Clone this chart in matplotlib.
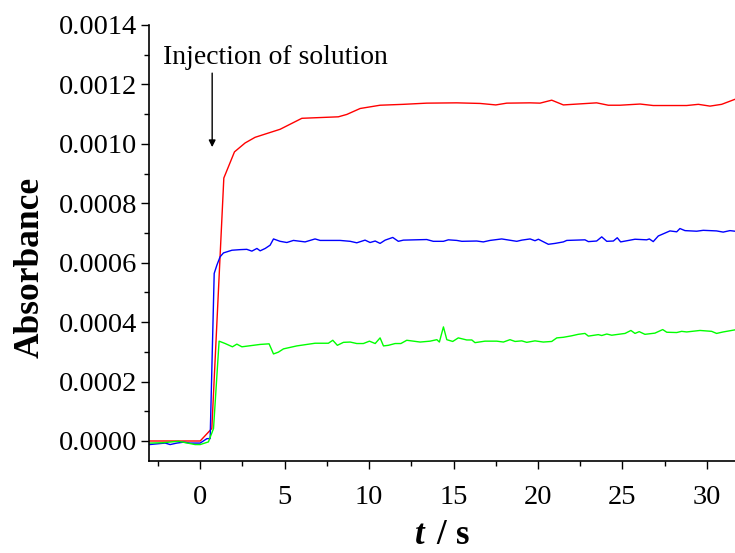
import matplotlib
matplotlib.use("Agg")
import matplotlib.pyplot as plt
from matplotlib.ticker import MultipleLocator, FormatStrFormatter

plt.rcParams['font.family'] = ['Liberation Serif', 'DejaVu Serif']
plt.rcParams['mathtext.fontset'] = 'custom'
plt.rcParams['mathtext.it'] = 'Liberation Serif:italic:bold'
plt.rcParams['mathtext.rm'] = 'Liberation Serif:bold'

# ---- data (time in s, absorbance) ----
red_t = [-3.0, 0.0, 0.69, 1.40, 2.03, 2.66, 3.25, 3.85, 4.73, 6.02, 8.18, 8.68,
         9.47, 10.65, 12.03, 13.41, 15.19, 16.57, 17.50, 18.15, 19.53, 20.12,
         20.81, 21.50, 23.47, 24.16, 24.85, 26.04, 26.82, 28.80, 29.49, 30.18,
         30.87, 31.66]
red_a = [0.0, 0.0, 0.000042, 0.000885, 0.000973, 0.001003, 0.001022, 0.001033,
         0.001049, 0.001086, 0.001091, 0.001099, 0.001119, 0.001130, 0.001133,
         0.001137, 0.001138, 0.001136, 0.001131, 0.001137, 0.001138, 0.001137,
         0.001147, 0.001131, 0.001138, 0.001130, 0.001130, 0.001134, 0.001129,
         0.001129, 0.001133, 0.001127, 0.001133, 0.001150]

blue_t = [-3.0, -2.07, -1.78, -1.38, -0.99, -0.59, 0.0, 0.40, 0.59, 0.83, 0.99,
          1.18, 1.38, 1.88, 2.37, 2.76, 3.06, 3.36, 3.55, 3.85, 4.14, 4.34, 4.73,
          5.13, 5.52, 6.21, 6.80, 7.10, 8.28, 8.88, 9.27, 9.76, 10.06, 10.36,
          10.65, 10.95, 11.40, 11.73, 12.03, 13.41, 13.80, 14.40, 14.69, 15.19,
          15.49, 16.37, 16.76, 17.16, 17.85, 18.74, 19.04, 19.53, 19.82, 20.02,
          20.61, 21.01, 21.50, 21.70, 22.78, 22.98, 23.47, 23.77, 24.07, 24.46,
          24.69, 24.89, 25.74, 26.43, 26.59, 26.82, 27.12, 27.81, 28.21, 28.40,
          28.70, 29.39, 29.78, 30.57, 30.96, 31.36, 31.66]
blue_a = [-0.000012, -0.000007, -0.000012, -0.000007, -0.000004, -0.000007,
          -0.000007, 0.000008, 0.000008, 0.000564, 0.000592, 0.000620, 0.000633,
          0.000642, 0.000644, 0.000645, 0.000639, 0.000648, 0.000640, 0.000648,
          0.000659, 0.000680, 0.000672, 0.000668, 0.000675, 0.000670, 0.000680,
          0.000675, 0.000675, 0.000672, 0.000667, 0.000676, 0.000668, 0.000673,
          0.000665, 0.000676, 0.000685, 0.000672, 0.000676, 0.000678, 0.000672,
          0.000672, 0.000677, 0.000675, 0.000672, 0.000673, 0.000670, 0.000675,
          0.000680, 0.000672, 0.000676, 0.000680, 0.000674, 0.000679, 0.000662,
          0.000665, 0.000670, 0.000675, 0.000677, 0.000671, 0.000673, 0.000687,
          0.000672, 0.000673, 0.000684, 0.000670, 0.000679, 0.000677, 0.000680,
          0.000671, 0.000690, 0.000707, 0.000704, 0.000715, 0.000708, 0.000706,
          0.000709, 0.000707, 0.000703, 0.000708, 0.000706]

green_t = [-3.0, -2.27, -1.28, -0.30, 0.0, 0.49, 0.79, 1.12, 1.48, 1.91, 2.17,
           2.47, 3.55, 4.08, 4.34, 4.63, 4.93, 5.72, 6.80, 7.59, 7.85, 8.12,
           8.48, 8.88, 9.27, 9.66, 10.02, 10.36, 10.65, 10.85, 11.14, 11.54,
           11.88, 12.23, 13.02, 13.61, 14.01, 14.16, 14.40, 14.60, 14.95, 15.28,
           15.78, 16.08, 16.27, 16.86, 17.56, 17.95, 18.34, 18.64, 19.04, 19.33,
           19.82, 20.31, 20.81, 21.11, 21.50, 21.99, 22.38, 22.78, 22.98, 23.57,
           23.77, 24.07, 24.36, 25.15, 25.50, 25.74, 25.99, 26.33, 26.92, 27.38,
           27.62, 28.21, 28.50, 28.80, 29.59, 30.28, 30.57, 30.96, 31.66]
green_a = [-0.000007, -0.000006, -0.000001, -0.000012, -0.000012, -0.000003,
           0.000042, 0.000336, 0.000328, 0.000317, 0.000326, 0.000317, 0.000325,
           0.000327, 0.000293, 0.000299, 0.000310, 0.000320, 0.000329, 0.000329,
           0.000339, 0.000322, 0.000332, 0.000333, 0.000328, 0.000328, 0.000336,
           0.000328, 0.000347, 0.000320, 0.000322, 0.000328, 0.000328, 0.000339,
           0.000333, 0.000336, 0.000341, 0.000333, 0.000384, 0.000341, 0.000335,
           0.000347, 0.000340, 0.000340, 0.000331, 0.000336, 0.000336, 0.000333,
           0.000341, 0.000335, 0.000337, 0.000332, 0.000337, 0.000333, 0.000335,
           0.000347, 0.000349, 0.000354, 0.000359, 0.000362, 0.000353, 0.000358,
           0.000355, 0.000360, 0.000356, 0.000362, 0.000372, 0.000362, 0.000368,
           0.000359, 0.000363, 0.000375, 0.000366, 0.000365, 0.000369, 0.000367,
           0.000372, 0.000369, 0.000362, 0.000367, 0.000374]

annotation_text = "Injection of solution"
arrow_t = 0.71
arrow_from = 0.001238
arrow_to = 0.000989

fig = plt.figure(figsize=(7.35, 5.53), dpi=100)
ax = fig.add_axes([0.2034, 0.166, 0.7966, 0.7888])

ax.plot(red_t, red_a, color='#ff0000', lw=1.0)
ax.plot(blue_t, blue_a, color='#0000ff', lw=1.0)
ax.plot(green_t, green_a, color='#00ff00', lw=1.0)

ax.set_xlim(-3.0, 31.66)
ax.set_ylim(-0.000068, 0.0014)

ax.spines['top'].set_visible(False)
ax.spines['right'].set_visible(False)
for s in ('left', 'bottom'):
    ax.spines[s].set_linewidth(1.2)

ax.xaxis.set_major_locator(MultipleLocator(5))
ax.xaxis.set_minor_locator(MultipleLocator(2.5))
ax.yaxis.set_major_locator(MultipleLocator(0.0002))
ax.yaxis.set_minor_locator(MultipleLocator(0.0001))
ax.yaxis.set_major_formatter(FormatStrFormatter('%.4f'))

ax.tick_params(which='major', direction='out', length=6, width=1.0,
               labelsize=20.5, pad=3)
ax.tick_params(which='minor', direction='out', length=3.5, width=1.0)
ax.tick_params(axis='x', which='major', pad=11)

ax.set_ylabel('Absorbance', fontsize=25.5, fontweight='bold')
ax.set_xlabel(r'$t\,$ / s', fontsize=25, fontweight='bold')
ax.yaxis.label.set_verticalalignment('center')
ax.xaxis.label.set_verticalalignment('center')
ax.yaxis.set_label_coords(-0.204, 0.445)
ax.xaxis.set_label_coords(0.500, -0.170)

ax.annotate('', xy=(arrow_t, arrow_to), xytext=(arrow_t, arrow_from),
            arrowprops=dict(arrowstyle='-|>', color='black', lw=1.0,
                            mutation_scale=10, shrinkA=0, shrinkB=0))
ax.text(-2.19, 0.001290, annotation_text, fontsize=20, va='center', ha='left')

fig.savefig('out.png', dpi=100)
